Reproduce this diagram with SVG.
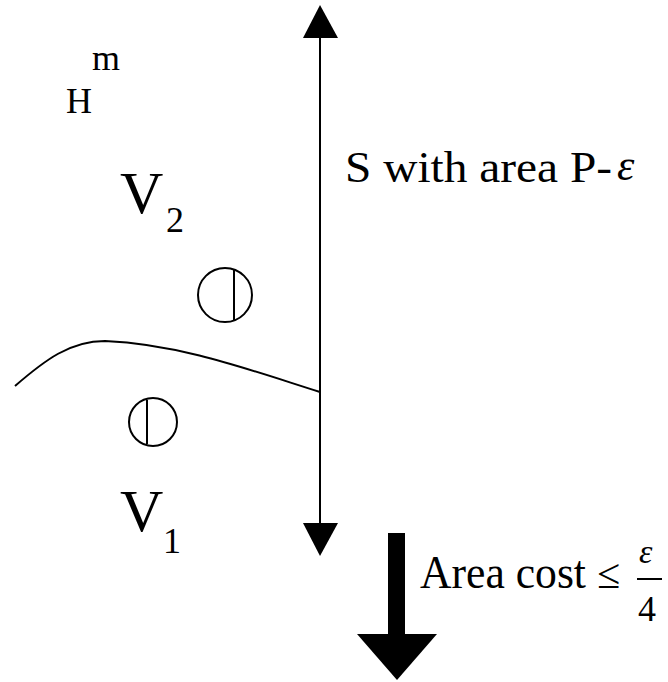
<svg xmlns="http://www.w3.org/2000/svg" width="668" height="682" viewBox="0 0 668 682">
<style>
.t{font-family:"Liberation Serif","Times New Roman",serif;fill:#000}
.ln{stroke:#000;fill:none;stroke-width:2}
.hd{fill:#000;stroke:none}
</style>
<rect width="668" height="682" fill="#fff"/>
<g id="labels">
<text class="t" x="66" y="113" font-size="36">H</text>
<text class="t" x="92" y="70" font-size="36">m</text>
<text class="t" x="120" y="213" font-size="60">V</text>
<text class="t" x="166" y="232" font-size="36">2</text>
<text class="t" x="120" y="531" font-size="60">V</text>
<text class="t" x="163" y="553" font-size="36">1</text>
<text class="t" x="345" y="182" font-size="44" textLength="267" lengthAdjust="spacingAndGlyphs">S with area P-</text>
<text class="t" x="617" y="180" font-size="44" font-style="italic">ε</text>
</g>
<g id="connectors">
<line class="ln" x1="320" y1="36" x2="320" y2="525"/>
<polygon class="hd" points="320,5 303,38 338,38"/>
<polygon class="hd" points="320,556 303,523 338,523"/>
<path class="ln" d="M15,386 C45,360 70,341 105,341 C180,344 250,370 320,392"/>
<rect class="hd" x="388" y="533" width="17" height="103"/>
<polygon class="hd" points="357,634 437,634 397,680"/>
</g>
<g id="node-circle-top">
<circle class="ln" cx="225" cy="295" r="27"/>
<line class="ln" x1="234" y1="270" x2="234" y2="320"/>
</g>
<g id="node-circle-bottom">
<circle class="ln" cx="153" cy="422" r="24"/>
<line class="ln" x1="147" y1="400" x2="147" y2="444"/>
</g>
<g id="area-cost">
<text class="t" x="420" y="588" font-size="46" textLength="166" lengthAdjust="spacingAndGlyphs">Area cost</text>
<text class="t" x="597" y="588" font-size="42">≤</text>
<text class="t" x="639" y="563" font-size="34" font-style="italic">ε</text>
<line class="ln" x1="637" y1="579" x2="662" y2="579"/>
<text class="t" x="638" y="621" font-size="36">4</text>
</g>
</svg>
